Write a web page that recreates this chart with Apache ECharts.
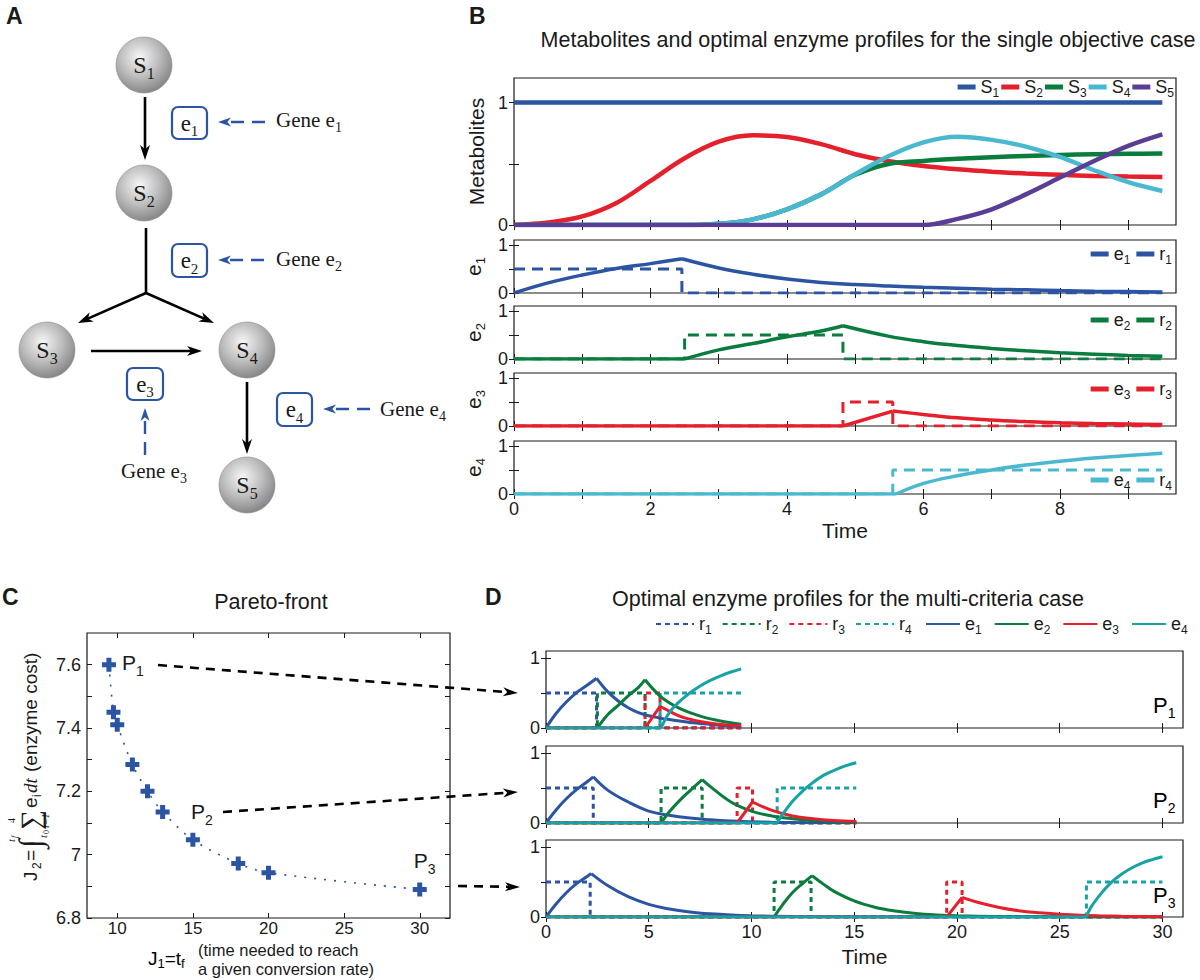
<!DOCTYPE html>
<html><head><meta charset="utf-8">
<script src="https://cdn.jsdelivr.net/npm/echarts@6/dist/echarts.min.js"></script>
<style>html,body{margin:0;padding:0;background:#fff}#c{width:1200px;height:980px}</style>
</head><body><div id="c"></div>
<script>
// ---------------- DATA ----------------
// Panel B: metabolites (time grid)
const tB = [0,0.5,1,1.5,2,2.5,3,3.5,4,4.5,5,5.5,6,6.5,7,7.5,8,8.5,9,9.5];
const S1 = [1,1,1,1,1,1,1,1,1,1,1,1,1,1,1,1,1,1,1,1];
const S2 = [0,0.02,0.07,0.18,0.36,0.545,0.68,0.732,0.718,0.66,0.578,0.52,0.482,0.455,0.435,0.42,0.41,0.40,0.395,0.392];
const S3 = [0,0,0,0,0,0,0.01,0.046,0.128,0.25,0.41,0.50,0.523,0.54,0.553,0.564,0.572,0.578,0.581,0.583];
const S4 = [0,0,0,0,0,0,0.01,0.046,0.128,0.25,0.414,0.565,0.675,0.72,0.695,0.64,0.556,0.447,0.35,0.278];
const S5 = [0,0,0,0,0,0,0,0,0,0,0,0,0,0.05,0.128,0.25,0.387,0.523,0.646,0.74];

// Panel B: enzymes e_i (solid) and r_i (dashed) ; *_brk = switching times
const eB1_t = [0,0.5,1,1.5,2,2.46,3,3.5,4,4.5,5,5.5,6,6.5,7,7.5,8,8.5,9,9.5];
const eB1_v = [0,0.21,0.374,0.51,0.61,0.71,0.52,0.39,0.29,0.22,0.175,0.145,0.12,0.10,0.08,0.065,0.05,0.038,0.03,0.022];
const eB1_brk = [2.46];
const rB1_t = [0,2.46,2.46,9.5];
const rB1_v = [0.5,0.5,0,0];
const eB2_t = [0,2.5,3,3.5,4,4.5,4.82,5.5,6,6.5,7,7.5,8,8.5,9,9.5];
const eB2_v = [0,0,0.19,0.32,0.46,0.58,0.69,0.47,0.36,0.28,0.22,0.17,0.13,0.10,0.075,0.055];
const eB2_brk = [2.5,4.82];
const rB2_t = [0,2.5,2.5,4.82,4.82,9.5];
const rB2_v = [0,0,0.5,0.5,0,0];
const eB3_t = [0,4.82,5.55,6,6.5,7,7.5,8,8.5,9,9.5];
const eB3_v = [0,0,0.31,0.24,0.17,0.125,0.092,0.068,0.05,0.04,0.032];
const eB3_brk = [4.82,5.55];
const rB3_t = [0,4.82,4.82,5.55,5.55,9.5];
const rB3_v = [0,0,0.5,0.5,0,0];
const eB4_t = [0,5.6,6,6.5,7,7.5,8,8.5,9,9.5];
const eB4_v = [0,0,0.22,0.38,0.5,0.6,0.68,0.745,0.8,0.845];
const eB4_brk = [5.6];
const rB4_t = [0,5.55,5.55,9.5];
const rB4_v = [0,0,0.5,0.5];

// Panel C: Pareto front
const J1 = [9.45,9.75,10,11,12,13,15,18,20,30];
const J2 = [7.6,7.45,7.41,7.285,7.2,7.135,7.047,6.972,6.943,6.89];
const paretoTags = ['P1','','','','','','P2','','','P3'];

// Panel D: P2
const eP2_1_t = [0,0.5,1,1.5,2,2.3,3,4,5,6,7,8,9,10,11,12,13,14,15.1];
const eP2_1_v = [0,0.19,0.35,0.48,0.59,0.66,0.47,0.3,0.17,0.11,0.07,0.045,0.028,0.018,0.011,0.007,0.004,0.003,0.002];
const eP2_1_brk = [2.3];
const rP2_1_t = [0,2.3,2.3,15.1];
const rP2_1_v = [0.5,0.5,0,0];
const eP2_2_t = [0,5.6,6,6.5,7,7.6,8,9,10,11,12,13,14,15.1];
const eP2_2_v = [0,0,0.16,0.32,0.46,0.62,0.52,0.3,0.17,0.1,0.06,0.037,0.022,0.013];
const eP2_2_brk = [5.6,7.6];
const rP2_2_t = [0,5.6,5.6,7.6,7.6,15.1];
const rP2_2_v = [0,0,0.5,0.5,0,0];
const eP2_3_t = [0,9.3,10.05,11,12,13,14,15.1];
const eP2_3_v = [0,0,0.3,0.18,0.1,0.06,0.035,0.02];
const eP2_3_brk = [9.3,10.05];
const rP2_3_t = [0,9.3,9.3,10.05,10.05,15.1];
const rP2_3_v = [0,0,0.5,0.5,0,0];
const eP2_4_t = [0,11.25,11.5,12,12.5,13,13.5,14,14.5,15.1];
const eP2_4_v = [0,0,0.12,0.31,0.46,0.58,0.68,0.75,0.81,0.86];
const eP2_4_brk = [11.25];
const rP2_4_t = [0,11.25,11.25,15.1];
const rP2_4_v = [0,0,0.5,0.5];

// Panel D: P3
const eP3_1_t = [0,0.5,1,1.5,2,2.2,3,4,5,6,7,8,9,10,12,14,16,18,20,22,24,26,28,30];
const eP3_1_v = [0,0.19,0.35,0.48,0.58,0.62,0.45,0.29,0.18,0.115,0.072,0.045,0.028,0.018,0.007,0.003,0.001,0,0,0,0,0,0,0];
const eP3_1_brk = [2.2];
const rP3_1_t = [0,2.15,2.15,30];
const rP3_1_v = [0.5,0.5,0,0];
const eP3_2_t = [0,11.1,11.5,12,12.5,12.95,13.5,14,15,16,17,18,19,20,22,24,26,28,30];
const eP3_2_v = [0,0,0.17,0.35,0.48,0.59,0.47,0.37,0.23,0.14,0.085,0.05,0.03,0.018,0.007,0.003,0.001,0,0];
const eP3_2_brk = [11.1,12.95];
const rP3_2_t = [0,11.1,11.1,12.9,12.9,30];
const rP3_2_v = [0,0,0.5,0.5,0,0];
const eP3_3_t = [0,19.5,20.25,21,22,23,24,25,26,27,28,29,30];
const eP3_3_v = [0,0,0.28,0.21,0.14,0.09,0.06,0.04,0.025,0.016,0.01,0.006,0.004];
const eP3_3_brk = [19.5,20.25];
const rP3_3_t = [0,19.5,19.5,20.25,20.25,30];
const rP3_3_v = [0,0,0.5,0.5,0,0];
const eP3_4_t = [0,26.3,26.5,27,27.5,28,28.5,29,29.5,30];
const eP3_4_v = [0,0,0.13,0.33,0.49,0.61,0.7,0.77,0.82,0.86];
const eP3_4_brk = [26.3];
const rP3_4_t = [0,26.3,26.3,30];
const rP3_4_v = [0,0,0.5,0.5];

// Tick values
const tickB_x = [0,1,2,3,4,5,6,7,8,9];
const labB_x = [0,2,4,6,8];
const tickE_y = [0,0.5,1];
const labE_y = [0,1];
const tickC_x = [10,15,20,25,30];
const tickC_y = [6.8,6.9,7.0,7.1,7.2,7.3,7.4,7.5,7.6];
const labC_y = [6.8,7.0,7.2,7.4,7.6];
const tickD_x = [0,5,10,15,20,25,30];

// ---------------- STYLE ----------------
const SANS = '"Liberation Sans", Arial, Helvetica, sans-serif';
const SERIF = '"Liberation Serif", "Times New Roman", serif';
const INK = '#1a1a1a';
const BLUE = '#2b54a3', RED = '#e3202c', GREEN = '#0a7c3d', CYAN = '#4ab9d0', PURPLE = '#5a3e96', TEAL = '#17a3a6';

const grids = [], xAxes = [], yAxes = [], series = [];
function addPanel(rect, xs, ys) {
  const gi = grids.length;
  grids.push(Object.assign({show: true, borderColor: INK, borderWidth: 1.2, backgroundColor: 'rgba(0,0,0,0)'}, rect));
  const tick = vals => ({show: true, inside: true, length: 5, customValues: vals, lineStyle: {color: INK, width: 1}});
  const base = {type: 'value', gridIndex: gi, splitLine: {show: false}, axisLine: {show: false}};
  const lab = (a) => ({show: !!a.labels, customValues: a.labels || [], margin: a.margin == null ? 6 : a.margin, color: INK,
    fontSize: a.fs || 18, fontFamily: SANS, formatter: a.fmt});
  xAxes.push(Object.assign({}, base, {position: 'bottom', min: xs.min, max: xs.max, axisTick: tick(xs.ticks), axisLabel: lab(xs),
    name: xs.name || '', nameLocation: 'middle', nameGap: xs.nameGap || 30, nameTextStyle: {fontSize: 21, fontFamily: SANS, color: INK}}));
  xAxes.push(Object.assign({}, base, {position: 'top', min: xs.min, max: xs.max, axisTick: tick(xs.ticks), axisLabel: {show: false}}));
  yAxes.push(Object.assign({}, base, {position: 'left', min: ys.min, max: ys.max, axisTick: tick(ys.ticks), axisLabel: lab(ys),
    name: ys.name || '', nameLocation: 'middle', nameGap: ys.nameGap || 30, nameRotate: 90,
    nameTextStyle: {fontSize: 21, fontFamily: SANS, color: INK, rich: {
      b: {fontSize: 21, fontFamily: SANS, color: INK, lineHeight: 28, verticalAlign: 'middle'},
      s: {fontSize: 13, fontFamily: SANS, color: INK, lineHeight: 28, verticalAlign: 'bottom'}}}}));
  yAxes.push(Object.assign({}, base, {position: 'right', min: ys.min, max: ys.max, axisTick: tick(ys.ticks), axisLabel: {show: false}}));
  return gi;
}
function pairs(t, v) { return t.map((x, i) => [x, v[i]]); }
function pieces(t, v, brk) {
  const segs = []; let cur = [];
  for (let i = 0; i < t.length; i++) {
    cur.push([t[i], v[i]]);
    if (brk.includes(t[i]) && i > 0 && i < t.length - 1) { segs.push(cur); cur = [[t[i], v[i]]]; }
  }
  if (cur.length > 1) segs.push(cur);
  return segs;
}
function lineS(name, data, gi, color, width, dash, smooth) {
  return {type: 'line', name, xAxisIndex: 2 * gi, yAxisIndex: 2 * gi, data, symbol: 'none', smooth: smooth || false,
    silent: true, animation: false,
    lineStyle: {color, width, type: dash || 'solid', cap: 'butt'}, itemStyle: {color}};
}
function addCurve(name, t, v, brk, gi, color, width) {
  pieces(t, v, brk).forEach(seg => {
    const flat = seg.every(p => p[1] === 0);
    series.push(lineS(name, seg, gi, color, width, null, flat ? false : 0.4));
  });
}
function addStep(name, t, v, gi, color, width, dash) {
  series.push(lineS(name, pairs(t, v), gi, color, width, dash, false));
}

// ---------------- PANELS ----------------
const C = addPanel({left: 87, top: 633, width: 363, height: 285},
  {min: 8, max: 32, ticks: tickC_x, labels: tickC_x, margin: 2, fs: 17},
  {min: 6.8, max: 7.7, ticks: tickC_y, labels: labC_y, fmt: v => (Math.abs(v - 7) < 1e-9 ? '7' : v.toFixed(1))});
const BM = addPanel({left: 514, top: 78, width: 662, height: 147},
  {min: 0, max: 9.7, ticks: tickB_x},
  {min: 0, max: 1.2, ticks: tickE_y, labels: labE_y, name: 'Metabolites', nameGap: 24});
const eTops = [240, 306, 373, 441];
const BE = eTops.map((top, i) => addPanel({left: 514, top, width: 662, height: 53},
  i === 3 ? {min: 0, max: 9.7, ticks: tickB_x, labels: labB_x, name: 'Time', nameGap: 26} : {min: 0, max: 9.7, ticks: tickB_x},
  {min: 0, max: 1.1, ticks: tickE_y, labels: labE_y, name: '{b|e}{s|' + (i + 1) + '}', nameGap: 22}));
const dTops = [651, 746, 840];
const DP = dTops.map((top, i) => addPanel({left: 546, top, width: 637, height: 77},
  i === 2 ? {min: 0, max: 31, ticks: tickD_x, labels: tickD_x, name: 'Time', nameGap: 29} : {min: 0, max: 31, ticks: tickD_x},
  {min: 0, max: 1.1, ticks: tickE_y, labels: labE_y}));

// Panel B metabolites
[['BS1', S1, BLUE], ['BS2', S2, RED], ['BS3', S3, GREEN], ['BS4', S4, CYAN], ['BS5', S5, PURPLE]].forEach(([n, v, c]) => {
  series.push(lineS(n, pairs(tB, v), BM, c, 4.5, null, 0.35));
});
// Panel B enzymes
const eBset = [[eB1_t, eB1_v, eB1_brk, rB1_t, rB1_v, BLUE], [eB2_t, eB2_v, eB2_brk, rB2_t, rB2_v, GREEN],
               [eB3_t, eB3_v, eB3_brk, rB3_t, rB3_v, RED], [eB4_t, eB4_v, eB4_brk, rB4_t, rB4_v, CYAN]];
eBset.forEach(([et, ev, eb, rt, rv, col], i) => {
  addCurve('Be' + (i + 1), et, ev, eb, BE[i], col, 3.5);
  addStep('Br' + (i + 1), rt, rv, BE[i], col, 3, [11, 7]);
});
// Panel C
series.push({type: 'line', name: 'pareto', xAxisIndex: 2 * C, yAxisIndex: 2 * C, animation: false, silent: true,
  data: J1.map((x, i) => {
    const tag = paretoTags[i];
    const item = {value: [x, J2[i]]};
    if (tag) {
      const off = tag === 'P1' ? [20, 5] : tag === 'P2' ? [5, -21] : [1, -22];
      item.label = {show: true, position: off, align: 'left', verticalAlign: 'middle',
        formatter: '{p|P}{s|' + tag.slice(1) + '}'};
    }
    return item;
  }),
  smooth: 0.3,
  symbol: 'path://M4.5,0H9.5V4.5H14V9.5H9.5V14H4.5V9.5H0V4.5H4.5Z', symbolSize: 14, showAllSymbol: true,
  lineStyle: {color: BLUE, width: 1.6, type: [2, 8]}, itemStyle: {color: BLUE},
  label: {show: false, rich: {
    p: {fontSize: 21, fontFamily: SANS, color: INK, lineHeight: 30, verticalAlign: 'middle'},
    s: {fontSize: 14, fontFamily: SANS, color: INK, lineHeight: 30, verticalAlign: 'bottom'}}}
});
// Panel D
const dCols = [BLUE, GREEN, RED, TEAL];
const dP1 = [[rB1_t, rB1_v, eB1_t, eB1_v, eB1_brk], [rB2_t, rB2_v, eB2_t, eB2_v, eB2_brk], [rB3_t, rB3_v, eB3_t, eB3_v, eB3_brk], [rB4_t, rB4_v, eB4_t, eB4_v, eB4_brk]];
const dP2 = [[rP2_1_t, rP2_1_v, eP2_1_t, eP2_1_v, eP2_1_brk], [rP2_2_t, rP2_2_v, eP2_2_t, eP2_2_v, eP2_2_brk], [rP2_3_t, rP2_3_v, eP2_3_t, eP2_3_v, eP2_3_brk], [rP2_4_t, rP2_4_v, eP2_4_t, eP2_4_v, eP2_4_brk]];
const dP3 = [[rP3_1_t, rP3_1_v, eP3_1_t, eP3_1_v, eP3_1_brk], [rP3_2_t, rP3_2_v, eP3_2_t, eP3_2_v, eP3_2_brk], [rP3_3_t, rP3_3_v, eP3_3_t, eP3_3_v, eP3_3_brk], [rP3_4_t, rP3_4_v, eP3_4_t, eP3_4_v, eP3_4_brk]];
[dP1, dP2, dP3].forEach((set, k) => {
  set.forEach(([rt, rv], i) => addStep('Dr' + (i + 1), rt, rv, DP[k], dCols[i], 3, [5, 4]));
  set.forEach(([, , et, ev, eb], i) => addCurve('De' + (i + 1), et, ev, eb, DP[k], dCols[i], 3));
});

// ---------------- LEGENDS ----------------
const richLeg = {
  b: {fontSize: 18, fontFamily: SANS, color: INK, lineHeight: 24, verticalAlign: 'middle'},
  s: {fontSize: 12, fontFamily: SANS, color: INK, lineHeight: 24, verticalAlign: 'bottom'}};
const legFmt = n => { const m = n.match(/^[BD]([A-Za-z])(\d)$/); return '{b|' + m[1] + '}{s|' + m[2] + '}'; };
function leg(data, pos, extra) {
  return Object.assign({data, orient: 'horizontal', padding: 0, selectedMode: false, formatter: legFmt,
    textStyle: {rich: richLeg, padding: 0}, itemGap: 4}, pos, extra || {});
}
const legends = [
  leg(['BS1', 'BS2', 'BS3', 'BS4', 'BS5'], {right: 26, top: 78}, {icon: 'rect', itemWidth: 18, itemHeight: 5, itemGap: 2}),
  leg(['Be1', 'Br1'], {right: 28, top: 245}, {icon: 'rect', itemWidth: 18, itemHeight: 5, itemGap: 6}),
  leg(['Be2', 'Br2'], {right: 28, top: 311}, {icon: 'rect', itemWidth: 18, itemHeight: 5, itemGap: 6}),
  leg(['Be3', 'Br3'], {right: 28, top: 380}, {icon: 'rect', itemWidth: 18, itemHeight: 5, itemGap: 6}),
  leg(['Be4', 'Br4'], {right: 28, top: 471}, {icon: 'rect', itemWidth: 18, itemHeight: 5, itemGap: 6}),
  leg(['Dr1', 'Dr2', 'Dr3', 'Dr4'], {left: 655, top: 615}, {itemWidth: 38, itemHeight: 14, itemGap: 10, itemStyle: {opacity: 0}}),
  leg(['De1', 'De2', 'De3', 'De4'], {left: 925, top: 615}, {itemWidth: 34, itemHeight: 14, itemGap: 12, itemStyle: {opacity: 0}})
];

// ---------------- GRAPHIC (diagram A, titles, annotations) ----------------
const G = [];
function txt(x, y, text, size, opts) {
  G.push(Object.assign({type: 'text', x, y, z: 50, style: Object.assign({text, fontSize: size, fontFamily: SANS, fill: INK, align: 'left', verticalAlign: 'middle'}, (opts || {}).style || {})}, opts && opts.el || {}));
}
function arrow(x1, y1, x2, y2, color, width, dash, hl, hw) {
  const dx = x2 - x1, dy = y2 - y1, L = Math.hypot(dx, dy), ux = dx / L, uy = dy / L;
  const bx = x2 - ux * hl, by = y2 - uy * hl, nx = x2 - ux * hl * 0.72, ny = y2 - uy * hl * 0.72;
  G.push({type: 'line', z: 40, shape: {x1, y1, x2: nx, y2: ny}, style: {stroke: color, lineWidth: width, lineDash: dash || null}});
  G.push({type: 'polygon', z: 41, shape: {points: [[x2, y2], [bx - uy * hw, by + ux * hw], [nx, ny], [bx + uy * hw, by - ux * hw]]}, style: {fill: color}});
}
const richSerif = (s1, s2) => ({a: {fontSize: s1, fontFamily: SERIF, fill: INK, color: INK, lineHeight: s1 + 8, verticalAlign: 'middle'},
                                b: {fontSize: s2, fontFamily: SERIF, fill: INK, color: INK, lineHeight: s1 + 8, verticalAlign: 'bottom'}});
// panel letters and titles
txt(6, 16, 'A', 23, {style: {fontWeight: 'bold'}});
txt(469, 16, 'B', 23, {style: {fontWeight: 'bold'}});
txt(2, 597, 'C', 23, {style: {fontWeight: 'bold'}});
txt(485, 597, 'D', 23, {style: {fontWeight: 'bold'}});
txt(868, 40, 'Metabolites and optimal enzyme profiles for the single objective case', 21.5, {style: {align: 'center'}});
txt(271, 602, 'Pareto-front', 21.5, {style: {align: 'center'}});
txt(848, 599, 'Optimal enzyme profiles for the multi-criteria case', 21.5, {style: {align: 'center'}});

// spheres
[[144, 65, '1'], [144, 193, '2'], [47, 350, '3'], [247, 350, '4'], [247, 485, '5']].forEach(([cx, cy, k]) => {
  G.push({type: 'circle', z: 30, shape: {cx, cy, r: 28}, style: {
    fill: {type: 'radial', x: 0.42, y: 0.36, r: 0.7, colorStops: [{offset: 0, color: '#f7f7f7'}, {offset: 0.5, color: '#bdbdbd'}, {offset: 1, color: '#7d7d7d'}]},
    stroke: '#8c8c8c', lineWidth: 0.6}});
  G.push({type: 'text', z: 31, x: cx, y: cy, style: {text: '{a|S}{b|' + k + '}', rich: richSerif(24, 16), align: 'center', verticalAlign: 'middle'}});
});
// black reaction arrows
arrow(145, 97, 145, 160, '#000', 2.6, null, 15, 5);
G.push({type: 'line', z: 40, shape: {x1: 146, y1: 228, x2: 146, y2: 294}, style: {stroke: '#000', lineWidth: 2.6}});
arrow(146, 293, 78, 323, '#000', 2.6, null, 15, 5);
arrow(146, 293, 214, 323, '#000', 2.6, null, 15, 5);
arrow(91, 351, 202, 351, '#000', 2.6, null, 15, 5);
arrow(247, 382, 247, 454, '#000', 2.6, null, 15, 5);
// enzyme boxes
[[172, 107, 35, 32, '1'], [172, 244, 35, 33, '2'], [127, 368, 36, 32, '3'], [277, 393, 35, 33, '4']].forEach(([x, y, w, h, k]) => {
  G.push({type: 'rect', z: 30, shape: {x, y, width: w, height: h, r: 6}, style: {fill: '#fff', stroke: BLUE, lineWidth: 2.2}});
  G.push({type: 'text', z: 31, x: x + w / 2, y: y + h / 2, style: {text: '{a|e}{b|' + k + '}', rich: richSerif(23, 15), align: 'center', verticalAlign: 'middle'}});
});
// gene arrows (blue dashed)
arrow(265, 122, 218, 122, BLUE, 2.4, [13, 8], 13, 4.5);
arrow(264, 260, 218, 260, BLUE, 2.4, [13, 8], 13, 4.5);
arrow(145, 455, 145, 408, BLUE, 2.4, [13, 8], 13, 4.5);
arrow(370, 409, 323, 409, BLUE, 2.4, [13, 8], 13, 4.5);
[[276, 120, '1'], [276, 259, '2'], [121, 471, '3'], [380, 409, '4']].forEach(([x, y, k]) => {
  G.push({type: 'text', z: 31, x, y, style: {text: '{a|Gene e}{b|' + k + '}', rich: richSerif(21, 14), align: 'left', verticalAlign: 'middle'}});
});

// arrows from Pareto points to panel D
arrow(158, 665, 518, 693, '#000', 2.6, [9, 7], 15, 4.5);
arrow(223, 812, 518, 792, '#000', 2.6, [9, 7], 15, 4.5);
arrow(458, 886, 520, 887, '#000', 2.6, [9, 7], 15, 4.5);

// P labels in panel D
const richP = {a: {fontSize: 22, fontFamily: SANS, color: INK, lineHeight: 30, verticalAlign: 'middle'},
               b: {fontSize: 14, fontFamily: SANS, color: INK, lineHeight: 30, verticalAlign: 'bottom'}};
[[1153, 705, '1'], [1153, 800, '2'], [1153, 895, '3']].forEach(([x, y, k]) => {
  G.push({type: 'text', z: 60, x, y, style: {text: '{a|P}{b|' + k + '}', rich: richP, align: 'left', verticalAlign: 'middle'}});
});

// Panel C x-axis name
const richJ = {a: {fontSize: 19, fontFamily: SANS, color: INK, lineHeight: 24, verticalAlign: 'middle'},
               b: {fontSize: 13, fontFamily: SANS, color: INK, lineHeight: 24, verticalAlign: 'bottom'}};
G.push({type: 'text', z: 50, x: 148, y: 958, style: {text: '{a|J}{b|1}{a|=t}{b|f}', rich: richJ, align: 'left', verticalAlign: 'middle'}});
txt(198, 950, '(time needed to reach', 16.5);
txt(198, 969, 'a given conversion rate)', 16.5);

// Panel C y-axis name (rotated group)
const yName = [
  [-106, 0, 'J', 19, SANS, 'normal'], [-94, 7, '2', 12, SANS, 'normal'], [-86, 0, '=', 19, SANS, 'normal'],
  [-73, 0, '\u222B', 32, SERIF, 'italic'], [-63, 13, 't', 11, SERIF, 'italic'], [-59, 16, '0', 8, SERIF, 'normal'],
  [-67, -19, 't', 11, SERIF, 'italic'], [-63, -16, 'f', 8, SERIF, 'italic'],
  [-55, 0, '\u2211', 28, SERIF, 'normal'], [-48, -19, '4', 10, SERIF, 'normal'], [-53, 15, 'i=1', 10, SERIF, 'italic'],
  [-33, 0, 'e', 19, SANS, 'normal'], [-22, 7, 'i', 12, SANS, 'normal'], [-18, 0, 'dt', 19, SERIF, 'italic'],
  [3, 0, '(enzyme cost)', 19, SANS, 'normal']
];
G.push({type: 'group', x: 30, y: 775, rotation: Math.PI / 2, z: 50,
  children: yName.map(([x, y, t, s, f, st]) => ({type: 'text', x, y, z: 50,
    style: {text: t, fontSize: s, fontFamily: f, fontStyle: st, fill: INK, align: 'left', verticalAlign: 'middle'}}))});

// ---------------- CHART ----------------
const chart = echarts.init(document.getElementById('c'), null, {renderer: 'svg', width: 1200, height: 980});
chart.setOption({
  backgroundColor: '#ffffff',
  animation: false,
  textStyle: {fontFamily: SANS},
  grid: grids, xAxis: xAxes, yAxis: yAxes,
  legend: legends,
  series,
  graphic: {elements: G}
});
</script></body></html>
